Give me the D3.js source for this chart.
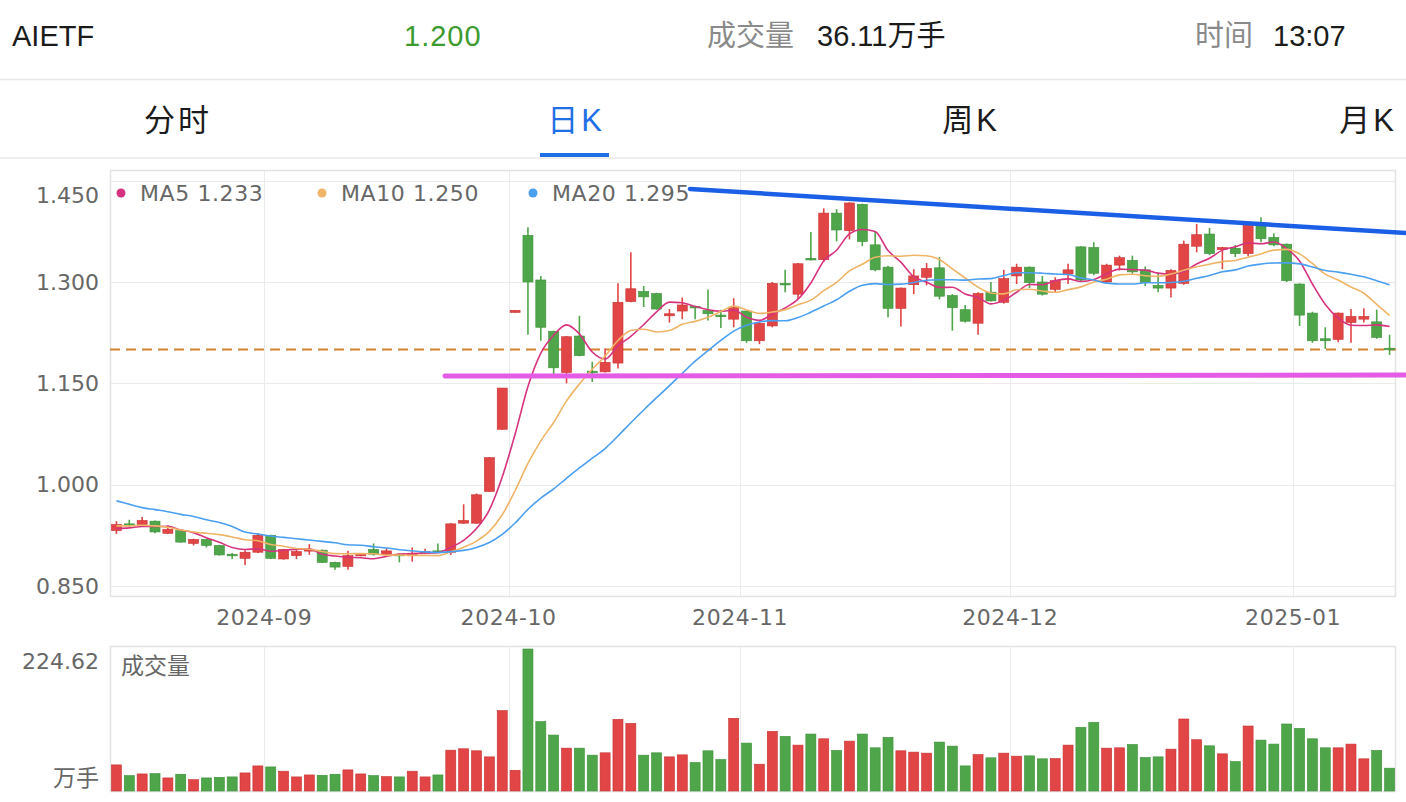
<!DOCTYPE html>
<html><head><meta charset="utf-8">
<script src="https://cdn.jsdelivr.net/npm/d3@7"></script>
<style>html,body{margin:0;padding:0;background:#fff}svg{display:block}</style>
</head><body>
<svg id="chart" width="1406" height="802"></svg>
<script>
// ---------------- data ----------------
const open  = [0.932,0.942,0.941,0.946,0.928,0.932,0.913,0.919,0.910,0.897,0.891,0.900,0.925,0.890,0.895,0.902,0.903,0.885,0.879,0.895,
               0.904,0.897,0.897,0.896,0.899,0.902,0.900,0.943,0.943,0.990,1.082,1.255,1.369,1.303,1.227,1.166,1.220,1.168,1.167,1.180,
               1.271,1.286,1.283,1.250,1.257,1.264,1.258,1.251,1.245,1.257,1.213,1.235,1.298,1.282,1.335,1.333,1.402,1.376,1.415,1.355,
               1.322,1.261,1.296,1.307,1.321,1.280,1.259,1.239,1.285,1.270,1.309,1.322,1.300,1.289,1.312,1.352,1.351,1.300,1.325,1.332,
               1.318,1.295,1.291,1.298,1.353,1.371,1.348,1.350,1.342,1.384,1.366,1.356,1.297,1.254,1.216,1.215,1.240,1.245,1.241,1.202];
const high  = [0.946,0.948,0.952,0.947,0.940,0.934,0.920,0.920,0.911,0.899,0.903,0.928,0.926,0.905,0.904,0.912,0.904,0.886,0.902,0.898,
               0.913,0.906,0.898,0.907,0.905,0.913,0.943,0.971,0.987,1.041,1.143,1.258,1.381,1.309,1.228,1.220,1.250,1.182,1.202,1.298,
               1.344,1.294,1.284,1.260,1.277,1.265,1.289,1.259,1.276,1.258,1.240,1.300,1.318,1.328,1.374,1.409,1.408,1.418,1.416,1.374,
               1.324,1.292,1.319,1.328,1.337,1.282,1.266,1.285,1.300,1.318,1.327,1.323,1.309,1.307,1.327,1.353,1.359,1.327,1.339,1.339,
               1.323,1.312,1.319,1.361,1.386,1.380,1.352,1.355,1.386,1.396,1.372,1.357,1.298,1.256,1.233,1.255,1.260,1.261,1.259,1.222];
const low   = [0.927,0.938,0.940,0.928,0.927,0.914,0.910,0.907,0.895,0.890,0.881,0.899,0.890,0.889,0.890,0.896,0.884,0.874,0.874,0.894,
               0.895,0.896,0.885,0.886,0.898,0.899,0.896,0.942,0.942,0.989,1.081,1.255,1.222,1.213,1.158,1.150,1.190,1.152,1.166,1.172,
               1.270,1.263,1.259,1.240,1.245,1.245,1.243,1.232,1.233,1.210,1.208,1.233,1.285,1.275,1.332,1.330,1.360,1.363,1.353,1.316,
               1.248,1.234,1.282,1.295,1.274,1.228,1.240,1.222,1.271,1.268,1.297,1.291,1.280,1.285,1.297,1.300,1.310,1.298,1.317,1.312,
               1.294,1.285,1.277,1.296,1.344,1.340,1.319,1.337,1.338,1.359,1.353,1.300,1.235,1.210,1.201,1.211,1.210,1.240,1.216,1.192];
const close = [0.941,0.939,0.947,0.930,0.934,0.915,0.919,0.910,0.896,0.895,0.900,0.925,0.891,0.904,0.901,0.904,0.885,0.878,0.895,0.897,
               0.897,0.902,0.896,0.898,0.901,0.900,0.942,0.947,0.985,1.040,1.143,1.258,1.300,1.233,1.173,1.219,1.191,1.166,1.181,1.270,
               1.290,1.278,1.260,1.253,1.266,1.262,1.253,1.249,1.262,1.213,1.239,1.298,1.296,1.327,1.333,1.402,1.377,1.417,1.360,1.318,
               1.261,1.291,1.309,1.320,1.279,1.262,1.242,1.283,1.272,1.305,1.322,1.299,1.282,1.302,1.318,1.303,1.313,1.325,1.336,1.315,
               1.299,1.291,1.317,1.356,1.370,1.342,1.351,1.342,1.384,1.364,1.355,1.302,1.251,1.213,1.213,1.254,1.249,1.249,1.218,1.200];
// volume, 万手
const volume = [41.3,24.4,27.0,27.5,20.7,26.5,18.0,20.7,21.7,22.3,28.6,39.7,38.1,31.3,22.3,25.4,24.9,26.5,33.4,27.0,
                24.4,22.8,22.3,31.3,22.3,25.4,64.6,66.8,63.6,54.0,127.2,32.8,224.62,109.7,88.5,67.8,67.8,56.7,60.4,113.4,
                107.0,56.7,60.4,54.0,57.2,45.0,63.6,49.8,115.0,75.8,42.4,94.3,86.4,72.6,90.1,82.6,64.1,78.9,90.1,68.3,
                84.8,63.6,61.5,59.9,77.4,71.0,39.7,57.7,52.5,59.9,55.1,55.6,50.9,51.4,72.6,100.7,108.6,67.8,68.3,73.6,
                53.0,54.0,66.2,113.9,81.1,71.5,58.8,46.6,102.8,80.5,74.2,106.0,99.1,82.6,68.3,68.3,74.2,50.9,64.1,36.11];
// moving-average values at the start of the window (their windows begin before the visible data)
const ma5Lead  = [0.935,0.936,0.938,0.938];
const ma10Lead = [0.939,0.939,0.940,0.939,0.937,0.933,0.930,0.928,0.926];
const ma20Lead = [0.976,0.971,0.966,0.963,0.960,0.956,0.953,0.948,0.944,0.938,0.930,0.927,0.924,0.922,0.920,0.918,0.916,0.914,0.911];
const maNames = ["MA5","MA10","MA20"];
const maPeriods = [5,10,20];
const maLegendValues = ["1.233","1.250","1.295"];

const priceTicks = [1.450,1.300,1.150,1.000,0.850];
const monthLabels = ["2024-09","2024-10","2024-11","2024-12","2025-01"];
const monthStartIndex = [12,31,49,70,92];
const volumeMaxLabel = "224.62";

const headerName = "AIETF", headerPrice = "1.200", headerVolLabel = "成交量", headerVol = "36.11万手",
      headerTimeLabel = "时间", headerTime = "13:07";
const tabs = ["分时","日K","周K","月K"];
const activeTab = 1;

// drawn annotations (index, price)
const refPrice = 1.200;
const trendLine   = [[44.6,1.4377],[100.3,1.3725]];
const supportLine = [[25.55,1.1608],[100.3,1.1623]];

// ---------------- styling ----------------
const RED="#e14545", RED_D="#c83232", GREEN="#4fa64a", GREEN_D="#3b8f37";
const maColors = ["#d6337f","#efb467","#4b9ff0"];
const GRID="#ebebeb", BORDER="#e3e3e3", AXIS_TXT="#676767";
const AX_FONT = "'DejaVu Sans', 'Noto Sans CJK SC', sans-serif";
const HD_FONT = "'Liberation Sans', 'Noto Sans CJK SC', sans-serif";

const svg = d3.select("#chart");
svg.append("rect").attr("width",1406).attr("height",802).attr("fill","#fff");

const L=110, R=1396, T=170, B=596, VT=646, VB=791;
const n = close.length;
const xb = d3.scaleBand().domain(d3.range(n)).range([L,R]).paddingInner(0.22).paddingOuter(0.11);
const xl = d3.scaleLinear().domain([-0.5, n-0.5]).range([L,R]);
const y  = d3.scaleLinear().domain([0.8352,1.4658]).range([B,T]);
const yv = d3.scaleLinear().domain([0,224.62]).range([VB,649]);

// ---------------- header ----------------
const hd = svg.append("g").attr("font-family",HD_FONT).attr("font-size",29).attr("dominant-baseline","central");
hd.append("text").attr("x",12).attr("y",36).attr("fill","#1b1b1b").text(headerName);
hd.append("text").attr("x",404).attr("y",36).attr("fill","#3c9a2e").attr("letter-spacing",1).text(headerPrice);
hd.append("text").attr("x",707).attr("y",36).attr("fill","#8a8a8a").text(headerVolLabel);
hd.append("text").attr("x",817).attr("y",36).attr("fill","#1b1b1b").text(headerVol);
hd.append("text").attr("x",1195).attr("y",36).attr("fill","#8a8a8a").text(headerTimeLabel);
hd.append("text").attr("x",1273).attr("y",36).attr("fill","#1b1b1b").text(headerTime);
svg.append("line").attr("x1",0).attr("x2",1406).attr("y1",79.5).attr("y2",79.5).attr("stroke","#e8e8e8").attr("stroke-width",1.5);

const tabCenters = [178,576,971,1368];
svg.append("g").selectAll("text").data(tabs).join("text")
  .attr("x",(d,i)=>tabCenters[i]).attr("y",120).attr("text-anchor","middle").attr("dominant-baseline","central")
  .attr("font-family",HD_FONT).attr("font-size",31).attr("letter-spacing",3)
  .attr("fill",(d,i)=> i===activeTab ? "#1f6fe5" : "#1b1b1b").text(d=>d);
svg.append("rect").attr("x",540).attr("y",153).attr("width",69).attr("height",4).attr("fill","#1f6fe5");
svg.append("line").attr("x1",0).attr("x2",1406).attr("y1",158).attr("y2",158).attr("stroke","#e8e8e8").attr("stroke-width",1.5);

// ---------------- grids ----------------
const g = svg.append("g");
g.selectAll(".hg").data(priceTicks).join("line")
  .attr("x1",L).attr("x2",R).attr("y1",d=>Math.round(y(d))+0.5).attr("y2",d=>Math.round(y(d))+0.5)
  .attr("stroke",GRID).attr("stroke-width",1);
monthStartIndex.forEach(idx=>{
  const gx = Math.round(xl(idx-0.5))+0.5;
  g.append("line").attr("x1",gx).attr("x2",gx).attr("y1",T).attr("y2",B).attr("stroke",GRID);
  g.append("line").attr("x1",gx).attr("x2",gx).attr("y1",VT).attr("y2",VB).attr("stroke",GRID);
});
g.append("rect").attr("x",L+0.5).attr("y",T+0.5).attr("width",R-L-1).attr("height",B-T).attr("fill","none").attr("stroke",BORDER).attr("stroke-width",1.5);
g.append("rect").attr("x",L+0.5).attr("y",VT+0.5).attr("width",R-L-1).attr("height",VB-VT).attr("fill","none").attr("stroke",BORDER).attr("stroke-width",1.5);

// axis labels
const ax = svg.append("g").attr("font-family",AX_FONT).attr("font-size",22).attr("fill",AXIS_TXT);
ax.selectAll(".yl").data(priceTicks).join("text")
  .attr("x",99).attr("y",d=>Math.max(y(d), T+25)).attr("text-anchor","end").attr("dominant-baseline","central")
  .text(d=>d3.format(".3f")(d));
ax.selectAll(".xl").data(monthLabels).join("text")
  .attr("x",(d,i)=>xl(monthStartIndex[i]-0.5)).attr("y",617).attr("text-anchor","middle").attr("dominant-baseline","central")
  .attr("letter-spacing",0.6).text(d=>d);
ax.append("text").attr("x",99).attr("y",661).attr("text-anchor","end").attr("dominant-baseline","central").text(volumeMaxLabel);
ax.append("text").attr("x",99).attr("y",778).attr("text-anchor","end").attr("dominant-baseline","central").attr("font-size",23).text("万手");
ax.append("text").attr("x",121).attr("y",666).attr("dominant-baseline","central").attr("font-size",23).text("成交量");

// reference dashed line
svg.append("line").attr("x1",L).attr("x2",R).attr("y1",y(refPrice)).attr("y2",y(refPrice))
  .attr("stroke","#d6822f").attr("stroke-width",2).attr("stroke-dasharray","10,6");

// ---------------- candles ----------------
const data = close.map((c,i)=>({i,o:open[i],h:high[i],l:low[i],c,v:volume[i],up:c>=open[i]}));
const cg = svg.append("g");
cg.selectAll(".wick").data(data).join("line")
  .attr("x1",d=>xb(d.i)+xb.bandwidth()/2).attr("x2",d=>xb(d.i)+xb.bandwidth()/2)
  .attr("y1",d=>y(d.h)).attr("y2",d=>y(d.l))
  .attr("stroke",d=>d.up?RED:GREEN).attr("stroke-width",1.6);
cg.selectAll(".body").data(data).join("rect")
  .attr("x",d=>xb(d.i)).attr("width",xb.bandwidth())
  .attr("y",d=>y(Math.max(d.o,d.c)))
  .attr("height",d=>Math.max(1.6, Math.abs(y(d.o)-y(d.c))))
  .attr("fill",d=>d.up?RED:GREEN).attr("stroke",d=>d.up?RED_D:GREEN_D).attr("stroke-width",0.6);

// ---------------- moving averages ----------------
const leads = [ma5Lead, ma10Lead, ma20Lead];
const maSeries = maPeriods.map((p,k)=> close.map((c,i)=> i < p-1 ? leads[k][i] : d3.mean(close.slice(i-p+1,i+1))));
const line = d3.line().x((d,i)=>xl(i)).y(d=>y(d)).curve(d3.curveMonotoneX);
maSeries.forEach((s,k)=>{
  svg.append("path").attr("d",line(s)).attr("fill","none").attr("stroke",maColors[k]).attr("stroke-width",1.6);
});

// ---------------- annotations ----------------
const seg = d3.line().x(d=>xl(d[0])).y(d=>y(d[1]));
svg.append("path").attr("d",seg(supportLine)).attr("stroke","#e45be6").attr("stroke-width",5).attr("stroke-linecap","round").attr("fill","none");
svg.append("path").attr("d",seg(trendLine)).attr("stroke","#1b5fe6").attr("stroke-width",4.5).attr("stroke-linecap","round").attr("fill","none");

// legend
const legX = [121,322,533];
const lg = svg.append("g").attr("font-family",AX_FONT).attr("font-size",22).attr("fill",AXIS_TXT);
maNames.forEach((nm,k)=>{
  lg.append("circle").attr("cx",legX[k]).attr("cy",193).attr("r",4.5).attr("fill",maColors[k]);
  lg.append("text").attr("x",legX[k]+19).attr("y",193).attr("dominant-baseline","central")
    .attr("letter-spacing",0.6).text(nm+" "+maLegendValues[k]);
});

// ---------------- volume ----------------
svg.append("g").selectAll("rect").data(data).join("rect")
  .attr("x",d=>xb(d.i)).attr("width",xb.bandwidth())
  .attr("y",d=>yv(d.v)).attr("height",d=>VB-yv(d.v))
  .attr("fill",d=>d.up?RED:GREEN).attr("stroke",d=>d.up?RED_D:GREEN_D).attr("stroke-width",0.6);
</script>
</body></html>
